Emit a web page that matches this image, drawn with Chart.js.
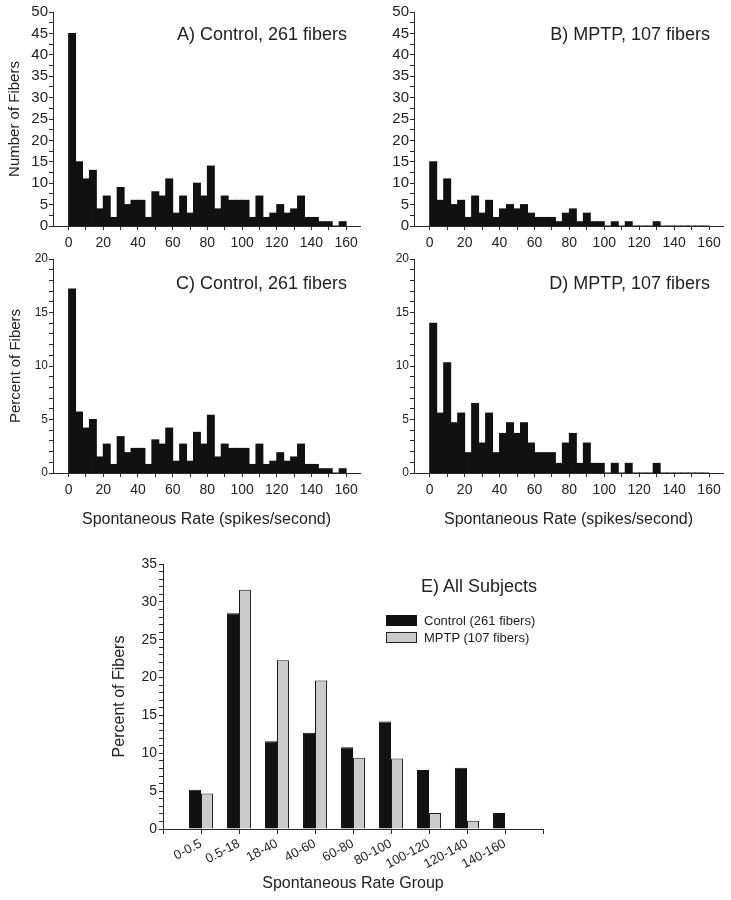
<!DOCTYPE html>
<html><head><meta charset="utf-8">
<script src="https://cdn.jsdelivr.net/npm/chart.js@4.4.0/dist/chart.umd.min.js"></script>
<style>
html,body{margin:0;padding:0;background:#fff;}
#wrap{position:relative;width:731px;height:900px;overflow:hidden;font-family:"Liberation Sans",Arial,sans-serif;color:#222;}
canvas{position:absolute;left:0;top:0;}
.lbl{position:absolute;white-space:nowrap;line-height:1;}
.box{position:absolute;width:31px;height:11px;box-sizing:border-box;}
</style></head><body>
<div id="wrap">
<canvas id="cA" width="731" height="900"></canvas>
<canvas id="cB" width="731" height="900"></canvas>
<canvas id="cC" width="731" height="900"></canvas>
<canvas id="cD" width="731" height="900"></canvas>
<canvas id="cE" width="731" height="900"></canvas>
<div class="lbl" style="right:384px;top:25px;font-size:18px">A) Control, 261 fibers</div>
<div class="lbl" style="right:21px;top:25px;font-size:18px">B) MPTP, 107 fibers</div>
<div class="lbl" style="right:384px;top:274px;font-size:18px">C) Control, 261 fibers</div>
<div class="lbl" style="right:21px;top:274px;font-size:18px">D) MPTP, 107 fibers</div>
<div class="lbl" style="right:194px;top:577px;font-size:18px">E) All Subjects</div>
<div class="box" style="left:386px;top:615px;background:#111;"></div>
<div class="box" style="left:386px;top:632px;background:#cbcbcb;border:1px solid #222;"></div>
<div class="lbl" style="left:424px;top:614px;font-size:13px">Control (261 fibers)</div>
<div class="lbl" style="left:424px;top:631px;font-size:13px">MPTP (107 fibers)</div>
</div>
<script>
// ---- data ----
const binWidth = 4;
const binStart = [0,4,8,12,16,20,24,28,32,36,40,44,48,52,56,60,64,68,72,76,80,84,88,92,96,100,104,108,112,116,120,124,128,132,136,140,144,148,152,156];
const controlCounts = [45,15,11,13,4,7,2,9,5,6,6,2,8,7,11,3,7,3,10,7,14,4,7,6,6,6,2,7,2,3,5,3,4,7,2,2,1,1,0,1];
const mptpCounts = [15,6,11,5,6,2,7,3,6,2,4,5,4,5,3,2,2,2,1,3,4,1,3,1,1,0,1,0,1,0,0,0,1,0,0,0,0,0,0,0];
const controlPercent = [17.2,5.7,4.2,5.0,1.5,2.7,0.8,3.4,1.9,2.3,2.3,0.8,3.1,2.7,4.2,1.1,2.7,1.1,3.8,2.7,5.4,1.5,2.7,2.3,2.3,2.3,0.8,2.7,0.8,1.1,1.9,1.1,1.5,2.7,0.8,0.8,0.4,0.4,0,0.4];
const mptpPercent = [14.0,5.6,10.3,4.7,5.6,1.9,6.5,2.8,5.6,1.9,3.7,4.7,3.7,4.7,2.8,1.9,1.9,1.9,0.9,2.8,3.7,0.9,2.8,0.9,0.9,0,0.9,0,0.9,0,0,0,0.9,0,0,0,0,0,0,0];
const rateGroups = ['0-0.5','0.5-18','18-40','40-60','60-80','80-100','100-120','120-140','140-160'];
const controlGroupPercent = [5.2,28.5,11.6,12.7,10.8,14.2,7.8,8.1,2.1];
const mptpGroupPercent = [4.7,31.6,22.3,19.6,9.4,9.3,2.1,1.1,0];

Chart.defaults.font.family = '"Liberation Sans", Arial, sans-serif';
Chart.defaults.color = '#222';
const W = 731, H = 900;
const AX = '#2a2a2a';

function histChart(id, values, yMax, yStep, area, o) {
  const data = binStart.map((b, i) => ({x: b + binWidth / 2, y: values[i]}));
  new Chart(document.getElementById(id), {
    type: 'bar',
    data: {datasets: [{data, backgroundColor: '#111', borderWidth: 0, barPercentage: 1, categoryPercentage: 1, inflateAmount: 0.5}]},
    options: {
      responsive: false, animation: false, events: [],
      layout: {padding: {left: area.left - o.yw, top: area.top, right: W - area.right, bottom: H - area.bottom - o.xh}},
      plugins: {legend: {display: false}, tooltip: {enabled: false}},
      scales: {
        x: {
          type: 'linear', min: -9, max: 168, offset: false,
          grid: {offset: false, drawOnChartArea: false, tickLength: 4, color: AX},
          border: {display: true, color: AX, width: 1},
          ticks: {stepSize: 10, autoSkip: false, maxRotation: 0, includeBounds: false, padding: 5,
                  font: {size: 14}, color: '#222', callback: v => (v % 20 === 0 ? String(v) : '')},
          title: {display: !!o.xTitle, text: o.xTitle || '', font: {size: 16}, padding: 0, color: '#222'},
          afterFit: s => { s.height = o.xh; }
        },
        y: {
          min: 0, max: yMax,
          grid: {drawOnChartArea: false, tickLength: 4, color: AX},
          border: {display: true, color: AX, width: 1},
          ticks: {stepSize: yStep, autoSkip: false, padding: 1, font: {size: o.yFont}, color: '#222',
                  callback: v => (Math.abs(v % 5) < 1e-9 ? String(v) : '')},
          title: {display: !!o.yTitle, text: o.yTitle || '', font: {size: 15}, padding: {top: o.yTitlePad, bottom: 0}, color: '#222'},
          afterFit: s => { s.width = o.yw; }
        }
      }
    }
  });
}

histChart('cA', controlCounts, 50, 2.5, {left: 53, top: 12, right: 360, bottom: 226},
  {yw: 53, xh: 30, yFont: 15, yTitle: 'Number of Fibers', yTitlePad: 6});
histChart('cB', mptpCounts, 50, 2.5, {left: 414, top: 12, right: 723, bottom: 226},
  {yw: 53, xh: 30, yFont: 15});
histChart('cC', controlPercent, 20, 1, {left: 53, top: 259, right: 360, bottom: 473},
  {yw: 53, xh: 56, yFont: 12, yTitle: 'Percent of Fibers', yTitlePad: 7, xTitle: 'Spontaneous Rate (spikes/second)'});
histChart('cD', mptpPercent, 20, 1, {left: 414, top: 259, right: 723, bottom: 473},
  {yw: 53, xh: 56, yFont: 12, xTitle: 'Spontaneous Rate (spikes/second)'});

// ---- panel E ----
const eArea = {left: 163, top: 564, right: 543, bottom: 829};
const eYW = 57, eXH = 64;
new Chart(document.getElementById('cE'), {
  type: 'bar',
  data: {
    labels: ['', ...rateGroups, ''],
    datasets: [
      {label: 'Control (261 fibers)', data: [null, ...controlGroupPercent, null], backgroundColor: '#111', borderColor: '#111', borderWidth: 1},
      {label: 'MPTP (107 fibers)', data: [null, ...mptpGroupPercent, null], backgroundColor: '#cbcbcb', borderColor: '#1a1a1a', borderWidth: 1}
    ]
  },
  options: {
    responsive: false, animation: false, events: [],
    datasets: {bar: {barPercentage: 1, categoryPercentage: 0.63}},
    layout: {padding: {left: eArea.left - eYW, top: eArea.top, right: W - eArea.right, bottom: H - eArea.bottom - eXH}},
    plugins: {legend: {display: false}, tooltip: {enabled: false}},
    scales: {
      x: {
        type: 'category', offset: false,
        grid: {offset: false, drawOnChartArea: false, tickLength: 5, color: AX},
        border: {display: true, color: AX, width: 1},
        ticks: {autoSkip: false, minRotation: 28, maxRotation: 28, padding: 2, font: {size: 13}, color: '#222'},
        title: {display: true, text: 'Spontaneous Rate Group', font: {size: 16}, padding: 0, color: '#222'},
        afterFit: s => { s.height = eXH; }
      },
      y: {
        min: 0, max: 35,
        grid: {drawOnChartArea: false, tickLength: 4, color: AX},
        border: {display: true, color: AX, width: 1},
        ticks: {stepSize: 1, autoSkip: false, padding: 2, font: {size: 14}, color: '#222',
                callback: v => (v % 5 === 0 ? String(v) : '')},
        title: {display: true, text: 'Percent of Fibers', font: {size: 16}, padding: {top: 4, bottom: 0}, color: '#222'},
        afterFit: s => { s.width = eYW; }
      }
    }
  }
});
</script>
</body></html>
